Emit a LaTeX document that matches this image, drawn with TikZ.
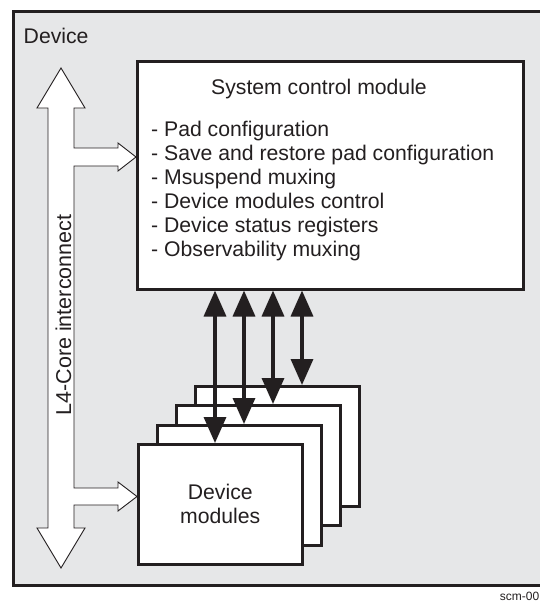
\documentclass[tikz,border=0pt]{standalone}
\usepackage{fontspec}
\setmainfont{Liberation Sans}
\usetikzlibrary{arrows.meta}
\definecolor{ink}{HTML}{231F20}
\definecolor{bg}{HTML}{E6E7E8}
\begin{document}
\begin{tikzpicture}[x=1pt,y=-1pt,
  box/.style={draw=ink, line width=2.5pt, fill=white, anchor=north west, inner sep=0pt},
  lbl/.style={font=\fontsize{21.2}{24}\selectfont, text=ink, inner sep=0pt},
  dbl/.style={draw=ink, line width=3.5pt, {Triangle[length=26pt,width=22pt]}-{Triangle[length=26pt,width=22pt]}},
  hollow/.style={draw=ink, line width=0.9pt, fill=white, line join=miter}]
\useasboundingbox (0,0) rectangle (540,603);
\fill[white] (0,0) rectangle (540,603);
% outer device region
\fill[bg] (12,10) rectangle (540,587);
\draw[ink, line width=3pt] (540,11.5) -| (13.5,585.5) -- (540,585.5);
\node[lbl, anchor=base west] (devlbl) at (23.5,43) {Device};
% L4 interconnect hollow arrow with branches
\draw[hollow] (61,68) -- (85,108) -- (74,108) -- (74,148) -- (118,148) -- (118,143) -- (136,157)
  -- (118,171) -- (118,166) -- (74,166) -- (74,488) -- (118,488) -- (118,482) -- (137,496.5)
  -- (118,511) -- (118,505) -- (74,505) -- (74,528) -- (85,528) -- (61,568) -- (37,528)
  -- (48,528) -- (48,108) -- (37,108) -- cycle;
\node[lbl, font=\fontsize{21.5}{24}\selectfont, rotate=90, anchor=base] (l4) at (71,315) {L4-Core interconnect};
% system control module
\node[box, minimum width=386pt, minimum height=228pt] (scm) at (136,60) {};
\node[lbl, anchor=base] (scmt) at (319,94) {System control module};
\foreach \t [count=\i] in {Pad configuration, Save and restore pad configuration, Msuspend muxing, Device modules control, Device status registers, Observability muxing}
  \node[lbl, anchor=base west] (item\i) at (151,{136.7+23.9*(\i-1)}) {- \t};
% device modules stack
\node[box, minimum width=164pt, minimum height=120pt] (dm4) at (194,385) {};
\node[box, minimum width=164pt, minimum height=120pt] (dm3) at (175,404) {};
\node[box, minimum width=164pt, minimum height=120pt] (dm2) at (156,424) {};
\node[box, minimum width=164pt, minimum height=120pt] (dm1) at (137,443) {};
\node[lbl, align=center] (dmt) at (dm1.center) {Device\\modules};
% double arrows
\coordinate (c1) at (215,0);
\coordinate (c2) at (244,0);
\coordinate (c3) at (273,0);
\coordinate (c4) at (302,0);
\draw[dbl] (c1 |- scm.south) -- (c1 |- dm1.north);
\draw[dbl] (c2 |- scm.south) -- (c2 |- dm2.north);
\draw[dbl] (c3 |- scm.south) -- (c3 |- dm3.north);
\draw[dbl] (c4 |- scm.south) -- (c4 |- dm4.north);
\node[lbl, font=\fontsize{12}{14}\selectfont, anchor=base east] (code) at (539.5,600) {scm-00};
\end{tikzpicture}
\end{document}
